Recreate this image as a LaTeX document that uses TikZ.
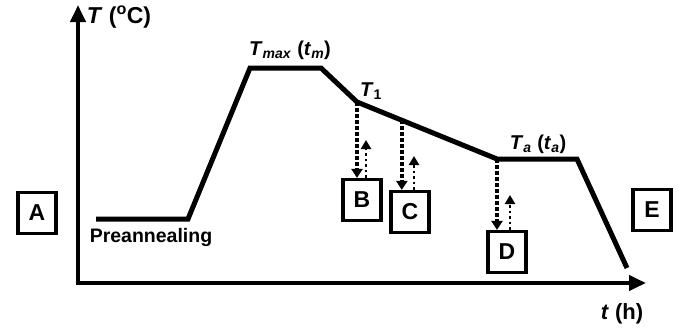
\documentclass[tikz,border=0pt]{standalone}
\usepackage{fontspec}
\setmainfont{Liberation Sans}
\usepackage{tikz}
\usetikzlibrary{shapes,arrows.meta,calc}
\tikzstyle{curve} = [draw, line width=5pt, line join=miter]
\tikzstyle{axis} = [draw, line width=4pt, -{Triangle[length=17pt,width=15pt]}]
\tikzstyle{stage} = [draw, line width=3.2pt, minimum width=38pt, minimum height=41pt, inner sep=0pt, font=\bfseries\fontsize{23}{23}\selectfont]
\tikzstyle{quench} = [draw, line width=4pt, dash pattern=on 3.5pt off 2.5pt, -{Triangle[length=9pt,width=11pt]}]
\tikzstyle{reheat} = [draw, line width=2.5pt, dash pattern=on 2.5pt off 3pt, -{Triangle[length=9pt,width=10pt]}]
\tikzstyle{lbl} = [inner sep=0pt, font=\bfseries\fontsize{20}{20}\selectfont]

\begin{document}
\begin{tikzpicture}[x=1pt,y=-1pt]
\useasboundingbox (0,0) rectangle (682,330);
% axes
\coordinate (o) at (78,283);
\coordinate (ytip) at (78,5);
\coordinate (xtip) at (646,283);
\draw[axis] (o) -- (ytip);
\draw[axis] ([xshift=-2pt]o) -- (xtip);
\node[lbl, font=\bfseries\fontsize{23}{23}\selectfont] (tlab) at (119,17) {\textit{T} (\textsuperscript{o}C)};
\node[lbl, font=\bfseries\fontsize{22}{22}\selectfont] (hlab) at (622,314) {\textit{t} (h)};
%
% annealing profile
\coordinate (p0) at (96,219);
\coordinate (p1) at (188,219);
\coordinate (p2) at (250,68);
\coordinate (p3) at (321,68);
\coordinate (t1) at (357,102);
\coordinate (ta) at (497,159);
\coordinate (p6) at (577,159);
\coordinate (p7) at (627,268);
\draw[curve] (p0) -- (p1) -- (p2) -- (p3) -- (t1) -- (ta) -- (p6) -- (p7);
\coordinate (c1) at ($(t1)!0.32!(ta)$);
%
\node[lbl, font=\bfseries\fontsize{19.5}{19.5}\selectfont] (pre) at (151,237) {Preannealing};
\node[lbl] (tmax) at (290,50) {\textit{T}\textsubscript{\textit{max}} (\textit{t}\textsubscript{\textit{m}})};
\node[lbl] (tone) at (371,91) {\textit{T}\textsubscript{1}};
\node[lbl] (tann) at (538,144) {\textit{T}\textsubscript{\textit{a}} (\textit{t}\textsubscript{\textit{a}})};
%
% sample states
\node[stage] (a) at (37,213) {A};
\node[stage] (b) at (362,200) {B};
\node[stage] (c) at (410,212) {C};
\node[stage] (d) at (507,252) {D};
\node[stage] (e) at (652,210) {E};
%
\draw[quench] (t1) -- (t1 |- b.north);
\draw[quench] (c1) -- (c1 |- c.north);
\draw[quench] (ta) -- (ta |- d.north);
\coordinate (bup) at (366,140);
\coordinate (cup) at (414,156);
\coordinate (dup) at (510,195);
\draw[reheat] (bup |- b.north) -- (bup);
\draw[reheat] (cup |- c.north) -- (cup);
\draw[reheat] (dup |- d.north) -- (dup);
\end{tikzpicture}
\end{document}
